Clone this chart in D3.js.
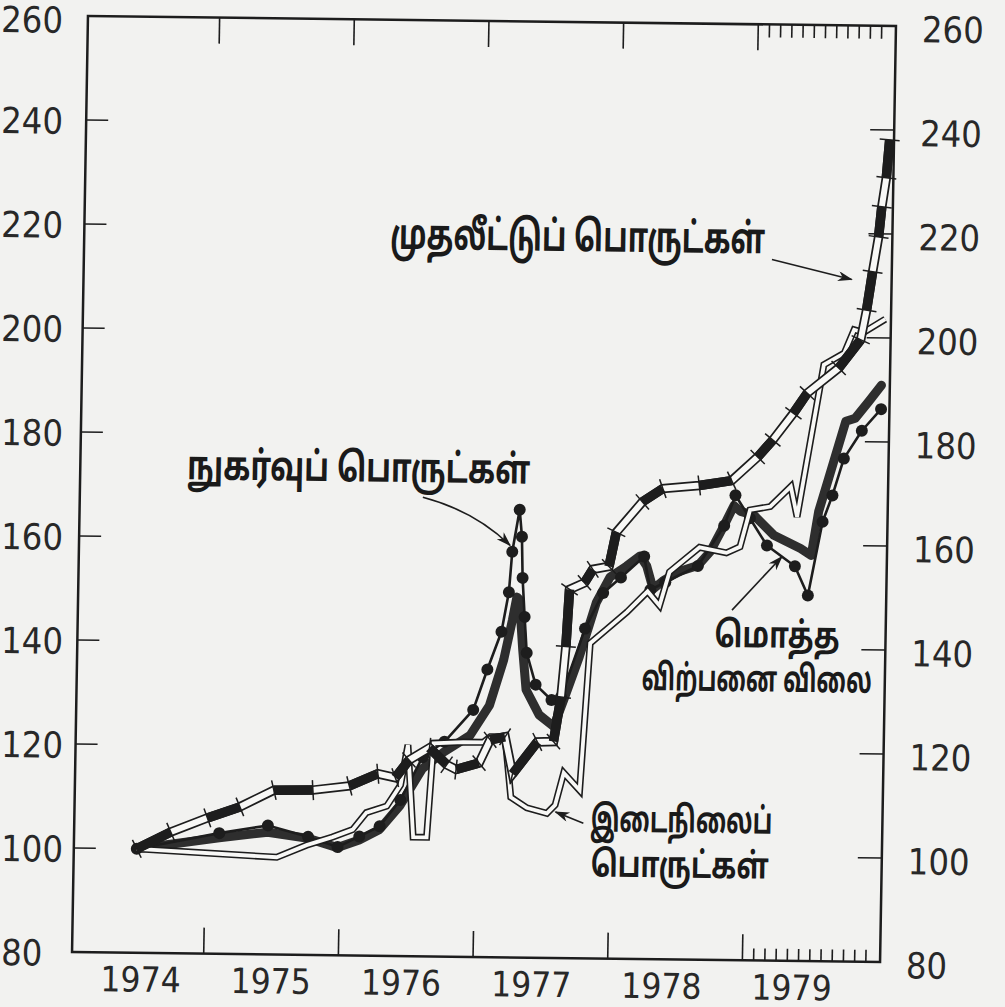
<!DOCTYPE html>
<html>
<head>
<meta charset="utf-8">
<script src="https://cdn.jsdelivr.net/npm/d3@7"></script>
<style>
  html, body { margin: 0; padding: 0; background: #f2f2f0; }
  svg { display: block; }
</style>
</head>
<body>
<svg width="1005" height="1007"></svg>
<script>
// tick labels
const years = [1974, 1975, 1976, 1977, 1978, 1979];
const yTickValues = [80, 100, 120, 140, 160, 180, 200, 220, 240, 260];

// [year, index]  1974 = 100
const capital = [
  [1974.49, 100], [1974.74, 103.3], [1975.01, 106.1], [1975.25, 108.3], [1975.50, 111.6],
  [1975.79, 111.7], [1976.06, 112.6], [1976.27, 115.0], [1976.40, 114.3], [1976.50, 117.7],
  [1976.65, 120.1], [1976.78, 116.9], [1976.85, 116.0], [1977.02, 117.3], [1977.10, 121.8],
  [1977.21, 122.4], [1977.27, 115.3], [1977.45, 121.5], [1977.57, 121.6], [1977.62, 130.2],
  [1977.65, 139.9], [1977.67, 150.9], [1977.78, 152.2], [1977.84, 154.8], [1977.96, 155.4],
  [1978.01, 162.0], [1978.20, 167.9], [1978.35, 170.5], [1978.62, 171.2], [1978.86, 172.2],
  [1979.05, 176.8], [1979.16, 180.1], [1979.31, 185.3], [1979.41, 189.2], [1979.64, 194.1],
  [1979.80, 199.6], [1979.84, 205.3], [1979.88, 212.7], [1979.92, 219.4], [1979.94, 225.2],
  [1979.97, 230.8], [1979.99, 238.1]
];

const consumer = [
  [1974.49, 100], [1975.10, 103.2], [1975.46, 104.8], [1975.76, 102.7], [1975.98, 100.8],
  [1976.14, 102.9], [1976.29, 104.9], [1976.44, 110.0], [1976.60, 118.3], [1976.76, 121.3],
  [1976.97, 127.5], [1977.07, 135.3], [1977.17, 142.6], [1977.22, 150.2], [1977.24, 158.0],
  [1977.29, 166.1], [1977.31, 160.9], [1977.32, 153.0], [1977.34, 145.5], [1977.36, 138.6],
  [1977.43, 132.5], [1977.55, 129.6], [1977.62, 130.2], [1977.79, 143.4], [1977.92, 150.3],
  [1978.05, 153.3], [1978.22, 157.4], [1978.27, 151.0], [1978.38, 152.5], [1978.62, 155.7],
  [1978.81, 163.5], [1978.89, 169.4], [1979.00, 165.0], [1979.13, 159.8], [1979.34, 155.9],
  [1979.44, 150.3], [1979.54, 164.5], [1979.61, 169.6], [1979.69, 176.7], [1979.82, 182.1],
  [1979.96, 186.3]
];

const intermediate = [
  [1974.49, 100], [1975.53, 98.7], [1975.75, 101.1], [1975.94, 102.7], [1976.09, 104.2],
  [1976.19, 107.5], [1976.34, 108.8], [1976.44, 112.9], [1976.49, 120.6], [1976.54, 102.9],
  [1976.64, 102.9], [1976.68, 121.0], [1976.90, 121.3], [1977.05, 121.3], [1977.10, 122.4],
  [1977.21, 122.4], [1977.26, 110.8], [1977.38, 108.8], [1977.53, 107.8], [1977.59, 109.4],
  [1977.65, 115.6], [1977.77, 112.3], [1977.83, 140.6], [1977.95, 143.3], [1978.10, 146.7],
  [1978.25, 150.7], [1978.34, 148.0], [1978.41, 154.5], [1978.63, 159.3], [1978.83, 158.3],
  [1978.93, 159.5], [1979.00, 166.6], [1979.15, 167.3], [1979.30, 171.2], [1979.35, 165.4],
  [1979.53, 194.7], [1979.68, 197.0], [1979.75, 201.5], [1979.82, 201.0], [1979.98, 203.6]
];

const wholesale = [
  [1974.49, 100], [1975.10, 102.3], [1975.46, 103.5], [1975.76, 102.4], [1975.98, 100.7],
  [1976.14, 102.2], [1976.29, 104.3], [1976.44, 109.0], [1976.60, 116.1], [1976.76, 119.4],
  [1976.95, 122.6], [1977.09, 128.4], [1977.19, 137.2], [1977.25, 144.9], [1977.28, 149.3],
  [1977.30, 148.8], [1977.33, 139.2], [1977.36, 131.5], [1977.46, 126.7], [1977.57, 124.5],
  [1977.64, 129.6], [1977.75, 137.9], [1977.87, 148.4], [1977.97, 153.4], [1978.09, 155.5],
  [1978.19, 157.5], [1978.24, 155.6], [1978.29, 151.2], [1978.36, 152.7], [1978.47, 154.5],
  [1978.62, 155.8], [1978.71, 158.5], [1978.81, 163.6], [1978.88, 167.4], [1978.93, 166.3],
  [1979.03, 165.6], [1979.18, 161.8], [1979.38, 159.3], [1979.46, 158.0], [1979.51, 166.5],
  [1979.58, 172.9], [1979.70, 183.9], [1979.77, 184.5], [1979.87, 187.8], [1979.96, 190.9]
];

const ink = '#1d1d1d';
const paper = '#f2f2f0';
const hollow = '#f8f8f6';
const numFont = "'Liberation Sans Narrow', 'DejaVu Sans Condensed', sans-serif";
const tamilFont = "'Noto Sans Tamil', 'Noto Serif Tamil', 'Lohit Tamil', 'Latha', sans-serif";

const svg = d3.select('svg');
svg.append('rect').attr('width', 1005).attr('height', 1007).attr('fill', paper);

svg.append('defs').append('marker')
    .attr('id', 'ah')
    .attr('viewBox', '0 0 12 8')
    .attr('refX', 11).attr('refY', 4)
    .attr('markerWidth', 17).attr('markerHeight', 10)
    .attr('markerUnits', 'userSpaceOnUse')
    .attr('orient', 'auto')
  .append('path')
    .attr('d', 'M0,0 L12,4 L0,8 L3.5,4 Z')
    .attr('fill', ink);

// the scanned page sits a little askew
const g = svg.append('g').attr('transform', 'matrix(1,0.0124,-0.017,1,8.3,-5)');

const x = d3.scaleLinear().domain([1974, 1980]).range([77, 885]);
const y = d3.scaleLinear().domain([80, 260]).range([956, 20]);
const plotL = 80, plotR = 888, plotT = y(260), plotB = y(80);

const line = d3.line().x(d => x(d[0])).y(d => y(d[1]));

// frame
g.append('rect')
  .attr('x', plotL).attr('y', plotT)
  .attr('width', plotR - plotL).attr('height', plotB - plotT)
  .attr('fill', 'none').attr('stroke', ink).attr('stroke-width', 2.5);

// year ticks top and bottom
const bounds = years.slice(1);
const months79 = d3.range(1, 12).map(m => 1979 + m / 12);
const tickG = g.append('g').attr('stroke', ink).attr('stroke-width', 1.6);
bounds.forEach(b => {
  tickG.append('line').attr('x1', x(b)).attr('x2', x(b)).attr('y1', plotB).attr('y2', plotB - 26);
  tickG.append('line').attr('x1', x(b)).attr('x2', x(b)).attr('y1', plotT).attr('y2', plotT + 26);
});
months79.forEach(m => {
  tickG.append('line').attr('x1', x(m)).attr('x2', x(m)).attr('y1', plotB).attr('y2', plotB - 12);
  tickG.append('line').attr('x1', x(m)).attr('x2', x(m)).attr('y1', plotT).attr('y2', plotT + 13);
});
yTickValues.filter(v => v > 80 && v < 260).forEach(v => {
  tickG.append('line').attr('x1', plotL).attr('x2', plotL + 22).attr('y1', y(v)).attr('y2', y(v));
  tickG.append('line').attr('x1', plotR - 24).attr('x2', plotR).attr('y1', y(v)).attr('y2', y(v));
});

// axis numbers (left column sits flush with the page edge)
const numG = g.append('g').attr('font-family', numFont).attr('font-size', 36).attr('fill', '#282828');
yTickValues.forEach(v => {
  const ly = Math.max(y(v) + 14, 37);
  numG.append('text').attr('x', 0.017 * ly - 7.3).attr('y', ly).text(v);
  numG.append('text').attr('x', 914).attr('y', y(v) + 16).text(v);
});
const labelX = d3.scaleLinear().domain([1974, 1979]).range([149, 800]);
years.forEach(yr => {
  numG.append('text').attr('x', labelX(yr)).attr('y', 995)
    .attr('font-size', 35).attr('text-anchor', 'middle').text(yr);
});

// wholesale: heavy line
g.append('path').datum(wholesale)
  .attr('d', line).attr('fill', 'none')
  .attr('stroke', '#2e2e2e').attr('stroke-width', 9)
  .attr('stroke-linejoin', 'round').attr('stroke-linecap', 'round');

// consumer: line with dots
g.append('path').datum(consumer)
  .attr('d', line).attr('fill', 'none')
  .attr('stroke', ink).attr('stroke-width', 2.6)
  .attr('stroke-linejoin', 'round');
g.selectAll('circle.cons').data(consumer).enter()
  .append('circle').attr('class', 'cons')
  .attr('cx', d => x(d[0])).attr('cy', d => y(d[1]))
  .attr('r', 6).attr('fill', ink);

// intermediate: hollow double line
const hollowLine = (data, outer, innerW) => {
  g.append('path').datum(data).attr('d', line).attr('fill', 'none')
    .attr('stroke', ink).attr('stroke-width', outer).attr('stroke-linejoin', 'miter').attr('stroke-miterlimit', 3);
  g.append('path').datum(data).attr('d', line).attr('fill', 'none')
    .attr('stroke', hollow).attr('stroke-width', innerW).attr('stroke-linejoin', 'miter').attr('stroke-miterlimit', 3);
};
hollowLine(intermediate, 7, 3.8);

// capital: hollow double line, every other stretch inked, cross ticks
hollowLine(capital, 9.5, 6);
const pts = capital.map(d => [x(d[0]), y(d[1])]);
const segs = d3.pairs(pts).filter((p, i) => i % 2 === 0);
g.selectAll('line.fill').data(segs).enter()
  .append('line').attr('class', 'fill')
  .attr('x1', d => d[0][0]).attr('y1', d => d[0][1])
  .attr('x2', d => d[1][0]).attr('y2', d => d[1][1])
  .attr('stroke', ink).attr('stroke-width', 9.5);
const unit = (a, b) => {
  const dx = b[0] - a[0], dy = b[1] - a[1], l = Math.hypot(dx, dy) || 1;
  return [dx / l, dy / l];
};
pts.forEach((p, i) => {
  let d;
  if (i === 0) d = unit(p, pts[1]);
  else if (i === pts.length - 1) d = unit(pts[i - 1], p);
  else {
    const a = unit(pts[i - 1], p), b = unit(p, pts[i + 1]);
    d = unit([0, 0], [a[0] + b[0], a[1] + b[1]]);
  }
  const n = [-d[1], d[0]];
  g.append('line')
    .attr('x1', p[0] - n[0] * 10).attr('y1', p[1] - n[1] * 10)
    .attr('x2', p[0] + n[0] * 10).attr('y2', p[1] + n[1] * 10)
    .attr('stroke', ink).attr('stroke-width', 1.5);
});

// series names and arrows; squeeze each name to the width it has in print
const labG = g.append('g').attr('font-family', tamilFont).attr('font-weight', 700).attr('fill', '#1a1a1a');
const label = (txt, lx, ly, size, len) => {
  const t = labG.append('text').attr('font-size', size).text(txt);
  const w = t.node().getComputedTextLength() || len;
  t.attr('transform', `translate(${lx},${ly}) scale(${len / w},1)`);
};
label('முதலீட்டுப் பொருட்கள்', 386, 249, 42, 375);
label('நுகர்வுப் பொருட்கள்', 187, 482, 40, 343);
label('மொத்த', 717, 643, 36, 125);
label('விற்பனை விலை', 645, 687, 36, 230);
label('இடைநிலைப்', 596, 829, 36, 182);
label('பொருட்கள்', 597, 874, 36, 178);

const arrow = d => g.append('path').attr('d', d).attr('fill', 'none')
  .attr('stroke', ink).attr('stroke-width', 1.6).attr('marker-end', 'url(#ah)');
arrow('M768,255 L848,274');
arrow('M423,497 Q475,510 511,544');
arrow('M734,606 L783,552');
arrow('M589,821 L561,810');
</script>
</body>
</html>
